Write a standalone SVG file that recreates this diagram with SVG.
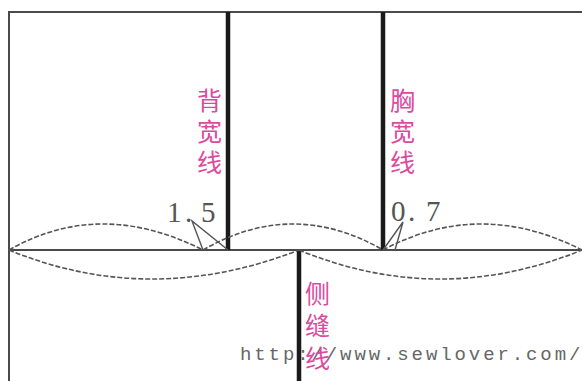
<svg xmlns="http://www.w3.org/2000/svg" width="582" height="381" viewBox="0 0 582 381">
<style>
.thin{fill:none;stroke:#4a4a4a;stroke-width:2}
.bar{fill:none;stroke:#1a1a1a;stroke-width:4.5}
.dash{fill:none;stroke:#555;stroke-width:1.6;stroke-dasharray:5 2}
.tri{fill:none;stroke:#555;stroke-width:1.4}
.cjk{font-family:"Noto Sans CJK SC",sans-serif;font-size:25px;fill:#dc4a9e;font-weight:400}
.num{font-family:"Liberation Serif",serif;font-size:29px;fill:#555}
.url{font-family:"Liberation Mono",monospace;font-size:19px;fill:#666;letter-spacing:2.9px}
</style>
<rect width="582" height="381" fill="#fff"/>
<g id="url"><text class="url" x="240" y="360">http://www.sewlover.com/</text></g>
<g id="connectors">
<path class="thin" d="M9 381V12H582"/>
<path class="thin" d="M9 250H582"/>
<path class="bar" d="M228 12V250"/>
<path class="bar" d="M383 12V250"/>
<path class="bar" d="M299 250V381"/>
<path class="dash" d="M9 250Q100 198 203 250"/>
<path class="dash" d="M203 250Q293 198 383 250"/>
<path class="dash" d="M383 250Q480 198 582 250"/>
<path class="dash" d="M9 250Q150 308 299 250"/>
<path class="dash" d="M299 250Q440 308 582 250"/>
<path class="tri" d="M203 250L192 221L228 250"/>
<path class="tri" d="M383 250L403 222L395 250"/>
</g>
<g id="back-width-line"><text class="cjk" x="197" y="110">背</text><text class="cjk" x="197" y="141">宽</text><text class="cjk" x="197" y="172">线</text></g>
<g id="chest-width-line"><text class="cjk" x="390" y="110">胸</text><text class="cjk" x="390" y="141">宽</text><text class="cjk" x="390" y="172">线</text></g>
<g id="side-seam-line"><text class="cjk" x="305" y="303">侧</text><text class="cjk" x="305" y="335">缝</text><text class="cjk" x="305" y="368">线</text></g>
<g id="label-1-5"><text class="num" x="167 185 201" y="222">1.5</text></g>
<g id="label-0-7"><text class="num" x="391 408 426" y="221">0.7</text></g>
</svg>
